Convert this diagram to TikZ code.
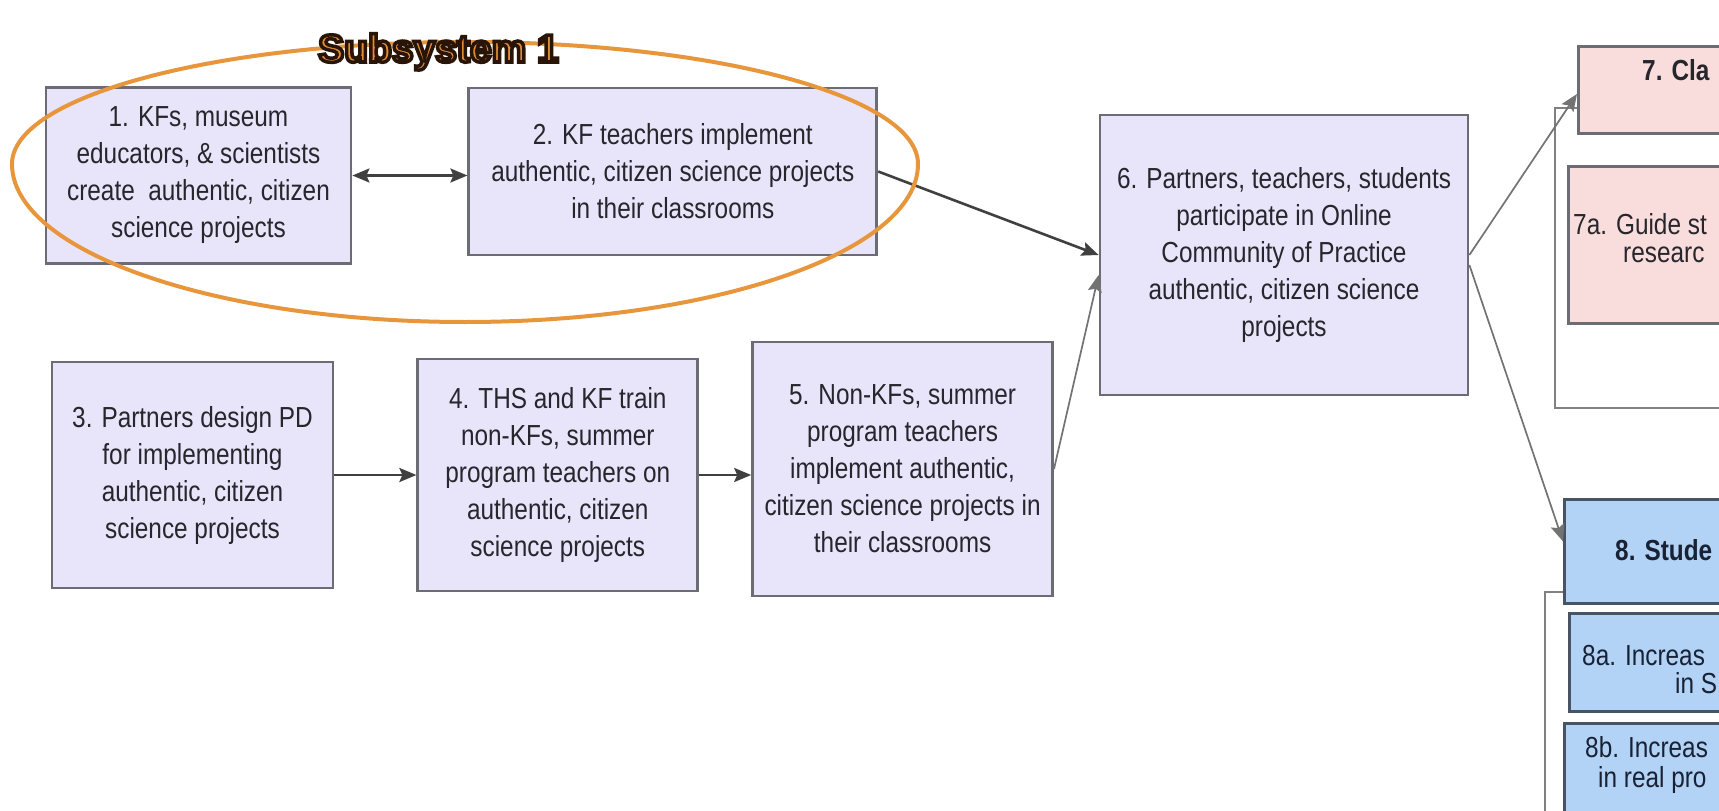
\documentclass[tikz,border=0pt]{standalone}
\usepackage{fontspec}
\setmainfont{Liberation Sans}
\newfontfamily\narrowsf{Liberation Sans}[FakeStretch=0.84]
\usetikzlibrary{positioning, arrows.meta}
\definecolor{lavfill}{RGB}{232,228,250}
\definecolor{boxline}{RGB}{108,108,116}
\definecolor{pinkfill}{RGB}{249,221,221}
\definecolor{bluefill}{RGB}{178,210,246}
\definecolor{blueline}{RGB}{72,84,100}
\definecolor{ringorange}{RGB}{232,150,60}
\definecolor{titleorange}{RGB}{226,140,56}
\definecolor{txtgray}{RGB}{38,38,44}
\definecolor{txtnavy}{RGB}{24,34,52}
\newcommand{\outlined}[1]{\special{pdf:literal direct 2 Tr 3.5 w 0.16 0.08 0.03 RG}#1\special{pdf:literal direct 0 Tr}}
\tikzset{
  >={Stealth[length=17pt, width=14pt, inset=3pt]},
  blk/.style={draw=boxline, line width=2.8pt, fill=lavfill, align=center, text=txtgray,
              font=\narrowsf\fontsize{29}{37}\selectfont, inner sep=0pt},
  pblk/.style={blk, fill=pinkfill, anchor=north west, minimum width=300pt},
  bblk/.style={blk, fill=bluefill, draw=blueline, anchor=north west, minimum width=300pt},
  frm/.style={draw=black!50, line width=2.5pt},
  cut/.style={anchor=base west, inner sep=0pt, text=txtgray, font=\narrowsf\fontsize{29}{30}\selectfont},
  cutb/.style={cut, font=\narrowsf\bfseries\fontsize{29}{30}\selectfont},
  ring/.style={draw=ringorange, line width=4pt},
  arr/.style={->, line width=2.6pt, draw=black!75},
  darr/.style={arr, <->},
  tarr/.style={arr, line width=1.7pt, draw=black!55},
}
\begin{document}
\begin{tikzpicture}[x=1pt, y=-1pt]
  \useasboundingbox (0,0) rectangle (1719,811);
  \clip (0,0) rectangle (1719,811);
  \node[blk, minimum width=305pt, minimum height=176pt](b1) at (198.5,175.5)
    {1. KFs, museum\\educators, \& scientists\\create~ authentic, citizen\\science projects};
  \node[blk, minimum width=408pt, minimum height=167pt, right=115pt of b1, yshift=4pt](b2)
    {2. KF teachers implement\\authentic, citizen science projects\\in their classrooms};
  \node[blk, minimum width=281pt, minimum height=226pt](b3) at (192.5,475)
    {3. Partners design PD\\for implementing\\authentic, citizen\\science projects};
  \node[blk, minimum width=280pt, minimum height=232pt, right=82pt of b3](b4)
    {4. THS and KF train\\non-KFs, summer\\program teachers on\\authentic, citizen\\science projects};
  \node[blk, minimum width=300pt, minimum height=254pt, right=52pt of b4, yshift=6pt](b5)
    {5. Non-KFs, summer\\program teachers\\implement authentic,\\citizen science projects in\\their classrooms};
  \node[blk, minimum width=368pt, minimum height=280pt](b6) at (1284,255)
    {6. Partners, teachers, students\\participate in Online\\Community of Practice\\authentic, citizen science\\projects};
  % right column, cut by the page edge
  \draw[frm] (1555,108) rectangle (1800,408);
  \draw[frm] (1545,592) rectangle (1800,900);
  \node[pblk, minimum height=87pt](b7) at (1577,45) {};
  \node[pblk, minimum height=157pt](b7a) at (1567,165) {};
  \node[bblk, minimum height=104pt](b8) at (1563,498) {};
  \node[bblk, minimum height=98pt](b8a) at (1568,612) {};
  \node[bblk, minimum height=140pt](b8b) at (1563,722) {};
  \node[cutb](t7) at (1642,80) {7. Cla};
  \node[cut](t7a) at (1573,234) {7a. Guide st};
  \node[cut](t7b) at (1623,262) {researc};
  \node[cutb, text=txtnavy](t8) at (1615,560) {8. Stude};
  \node[cut, text=txtnavy](t8a) at (1582,665) {8a. Increas};
  \node[cut, text=txtnavy](t8b) at (1675,693) {in S};
  \node[cut, text=txtnavy](t8c) at (1585,757) {8b. Increas};
  \node[cut, text=txtnavy](t8d) at (1598,787) {in real pro};
  \draw[darr](b1.east) -- (b1.east -| b2.west);
  \draw[arr](b3) -- (b4);
  \draw[arr](b4.east) -- (b4.east -| b5.west);
  \draw[arr](b2.east) -- (b6.west);
  \draw[tarr](b5.east) -- ([yshift=-20pt]b6.west);
  \draw[tarr](b6.east) -- ([yshift=-4pt]b7.west);
  \draw[tarr]([yshift=-10pt]b6.east) -- ([yshift=10pt]b8.west);
  \draw[ring] (12,164) arc[start angle=180, end angle=0, x radius=453, y radius=158]
    arc[start angle=0, end angle=-180, x radius=453, y radius=122] -- cycle;
  \node[anchor=base west, inner sep=0pt, text=titleorange,
        font=\bfseries\fontsize{39}{40}\selectfont](ttl) at (318,62) {\outlined{Subsystem 1}};
\end{tikzpicture}
\end{document}
